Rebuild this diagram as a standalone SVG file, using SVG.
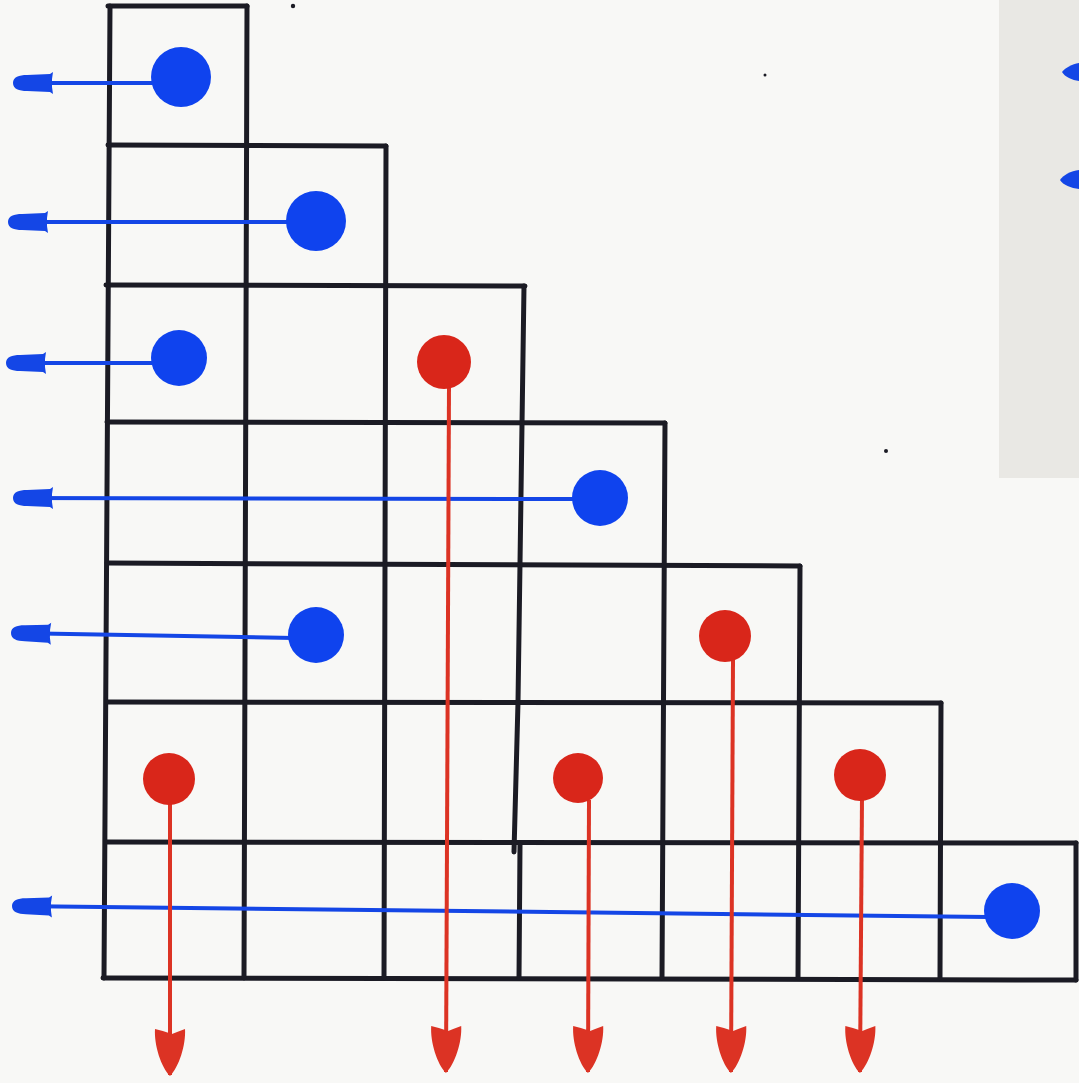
<svg xmlns="http://www.w3.org/2000/svg" width="1079" height="1083" viewBox="0 0 1079 1083">
  <style>
    .grid { stroke: #1b1b24; stroke-width: 5; stroke-linecap: round; stroke-linejoin: round; fill: none; }
    .blue { fill: #0f43ee; }
    .red { fill: #d9261a; }
    .bl { stroke: #1446e6; stroke-width: 4; fill: none; }
    .rl { stroke: #dc3324; stroke-width: 4; fill: none; }
    .speck { fill: #1b1b24; }
  </style>
  <defs>
    <!-- marker-pen arrow tips, tip at the path end -->
    <marker id="headBlue" markerUnits="userSpaceOnUse" markerWidth="50" markerHeight="26" viewBox="-44 -13 50 26" refX="0" refY="0" orient="auto" overflow="visible">
      <path d="M1 0 C1 -6 -5 -8 -13 -8 L-36 -9 L-39 -11 L-38 -4 L-38 4 L-39 11 L-36 9 L-13 8 C-5 8 1 6 1 0 Z" fill="#1446e6"/>
    </marker>
    <marker id="headRed" markerUnits="userSpaceOnUse" markerWidth="56" markerHeight="36" viewBox="-52 -18 56 36" refX="0" refY="0" orient="auto" overflow="visible">
      <path d="M1 0 C-8 -9 -30 -16 -46 -15 Q-43 -7 -41 -2 Q-44 6 -46 15 C-30 16 -8 9 1 0 Z" fill="#dc3324"/>
    </marker>
  </defs>

  <!-- paper -->
  <rect width="1079" height="1083" fill="#f8f8f6"/>
  <!-- second sheet edge on the right -->
  <rect x="999" y="0" width="80" height="478" fill="#e9e8e4"/>
  <path d="M1079 63 C1072 64 1065 68 1062 72 C1065 77 1072 80 1079 81 Z" fill="#1446e6"/>
  <path d="M1079 170 C1071 171 1063 175 1060 180 C1063 185 1071 188 1079 189 Z" fill="#1446e6"/>

  <!-- staircase grid -->
  <g id="grid" class="grid">
    <path d="M108 6 L247 6"/>
    <path d="M108 145 L386 146"/>
    <path d="M106 285 L525 286"/>
    <path d="M107 422 L665 423"/>
    <path d="M107 563 L800 566"/>
    <path d="M108 702 L941 703"/>
    <path d="M106 842 L1076 843"/>
    <path d="M103 978 L1076 980"/>

    <path d="M110 6 L104 978"/>
    <path d="M247 6 L244 978"/>
    <path d="M386 146 L384 978"/>
    <path d="M524 286 L518 702 L514 852"/>
    <path d="M520 845 L519 978"/>
    <path d="M665 423 L662 978"/>
    <path d="M800 566 L798 978"/>
    <path d="M941 703 L940 978"/>
    <path d="M1076 843 L1076 980"/>
  </g>

  <!-- small specks on the sheet -->
  <g id="specks">
    <circle class="speck" cx="293" cy="6" r="2.2"/>
    <circle class="speck" cx="765" cy="75" r="1.5"/>
    <circle class="speck" cx="886" cy="451" r="2"/>
  </g>

  <!-- connectors: blue exits to the left, red exits downwards -->
  <g id="connectors">
    <path class="bl" d="M160 83 L14 83" marker-end="url(#headBlue)"/>
    <path class="bl" d="M292 222 L9 222" marker-end="url(#headBlue)"/>
    <path class="bl" d="M156 363 L7 363" marker-end="url(#headBlue)"/>
    <path class="bl" d="M578 499 L14 498" marker-end="url(#headBlue)"/>
    <path class="bl" d="M294 638 L12 633" marker-end="url(#headBlue)"/>
    <path class="bl" d="M988 917 L13 906" marker-end="url(#headBlue)"/>

    <path class="rl" d="M449 385 L446 1072" marker-end="url(#headRed)"/>
    <path class="rl" d="M733 660 L731 1072" marker-end="url(#headRed)"/>
    <path class="rl" d="M170 802 L170 1075" marker-end="url(#headRed)"/>
    <path class="rl" d="M589 800 L588 1072" marker-end="url(#headRed)"/>
    <path class="rl" d="M862 798 L860 1072" marker-end="url(#headRed)"/>
  </g>

  <!-- markers in the cells -->
  <g id="nodes">
    <g id="b1"><circle class="blue" cx="181" cy="77" r="30"/></g>
    <g id="b2"><circle class="blue" cx="316" cy="221" r="30"/></g>
    <g id="b3"><circle class="blue" cx="179" cy="358" r="28"/></g>
    <g id="b4"><circle class="blue" cx="600" cy="498" r="28"/></g>
    <g id="b5"><circle class="blue" cx="316" cy="635" r="28"/></g>
    <g id="b7"><circle class="blue" cx="1012" cy="911" r="28"/></g>

    <g id="r3"><circle class="red" cx="444" cy="362" r="27"/></g>
    <g id="r5"><circle class="red" cx="725" cy="636" r="26"/></g>
    <g id="r6a"><circle class="red" cx="169" cy="779" r="26"/></g>
    <g id="r6b"><circle class="red" cx="578" cy="778" r="25"/></g>
    <g id="r6c"><circle class="red" cx="860" cy="775" r="26"/></g>
  </g>
</svg>
